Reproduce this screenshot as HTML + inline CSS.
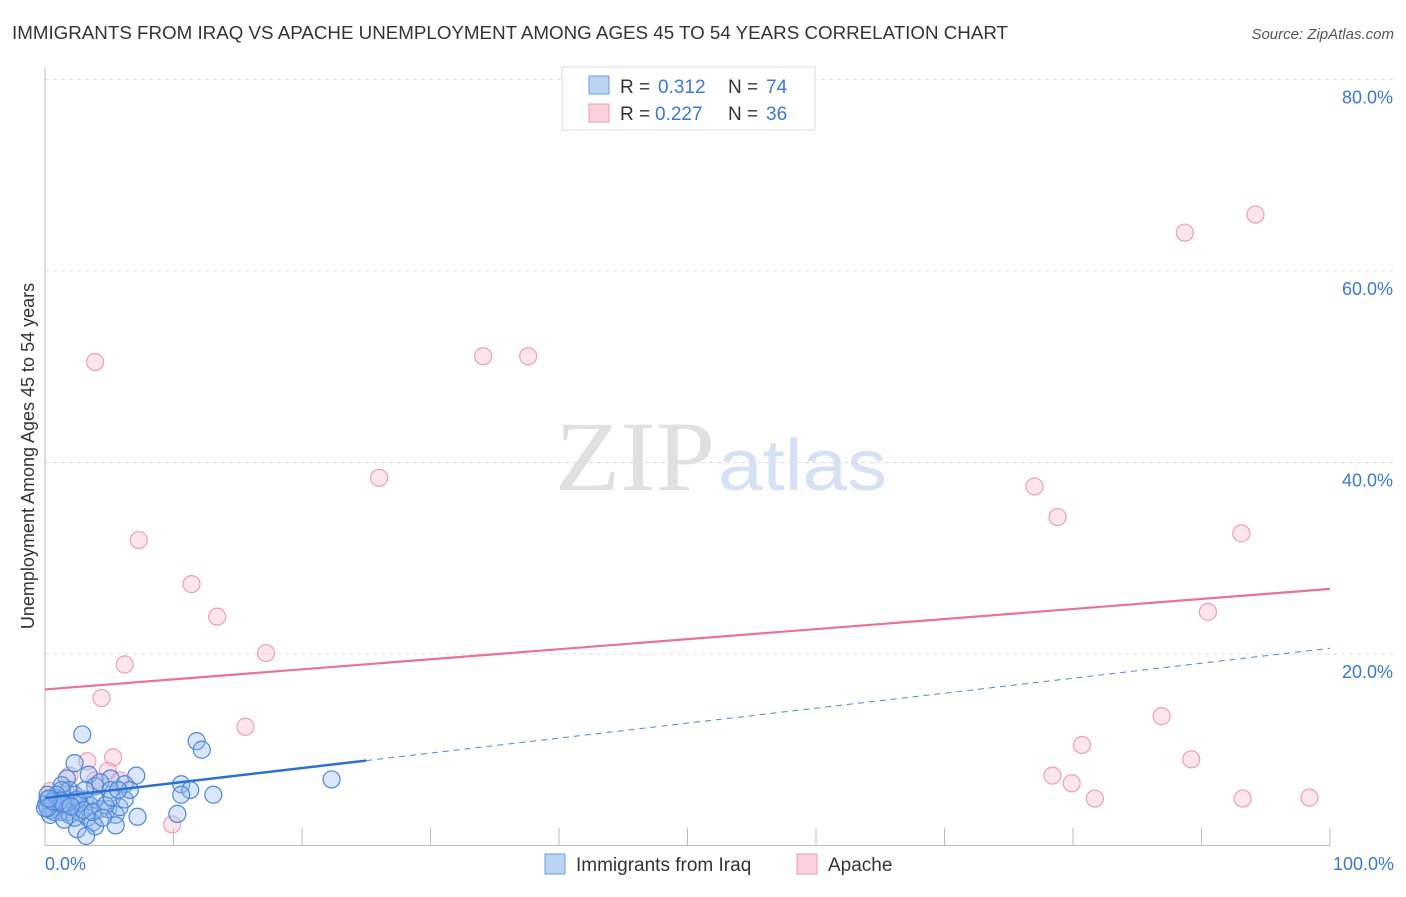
<!DOCTYPE html>
<html><head><meta charset="utf-8"><style>
body{margin:0;background:#fff;font-family:"Liberation Sans",sans-serif}
</style></head><body>
<svg width="1406" height="892" font-family="Liberation Sans, sans-serif">
<text x="12" y="39" font-size="18" fill="#333" textLength="996" lengthAdjust="spacingAndGlyphs">IMMIGRANTS FROM IRAQ VS APACHE UNEMPLOYMENT AMONG AGES 45 TO 54 YEARS CORRELATION CHART</text>
<text x="1394" y="39" font-size="15" fill="#555" font-style="italic" text-anchor="end">Source: ZipAtlas.com</text>
<g id="grid"></g>
<text x="555" y="490" font-size="100" fill="#e0e0e0" textLength="160" lengthAdjust="spacingAndGlyphs" style="font-family:'Liberation Serif',serif">ZIP</text>
<text x="718" y="490" font-size="72" fill="#d6e2f3" textLength="169" lengthAdjust="spacingAndGlyphs">atlas</text>
<text transform="translate(34,456) rotate(-90)" font-size="18" fill="#333" text-anchor="middle">Unemployment Among Ages 45 to 54 years</text>
<g id="marks"></g>
<g>
<rect x="562" y="67" width="253" height="63" fill="#fff" stroke="#ddd"/>
<rect x="589" y="76" width="20" height="18" fill="#bcd4f4" stroke="#6b9be0"/>
<rect x="589" y="104" width="20" height="18" fill="#fbd0dc" stroke="#ec9ab4"/>
<text x="620" y="93" font-size="19" fill="#333">R =</text><text x="658" y="93" font-size="19" fill="#3a78d4">0.312</text>
<text x="728" y="93" font-size="19" fill="#333">N =</text><text x="766" y="93" font-size="19" fill="#3a78d4">74</text>
<text x="620" y="120" font-size="19" fill="#333">R =</text><text x="655" y="120" font-size="19" fill="#3a78d4">0.227</text>
<text x="728" y="120" font-size="19" fill="#333">N =</text><text x="766" y="120" font-size="19" fill="#3a78d4">36</text>
</g>
<g>
<rect x="545" y="854" width="20" height="20" fill="#bcd4f4" stroke="#6b9be0"/>
<text x="576" y="871" font-size="19" fill="#333">Immigrants from Iraq</text>
<rect x="797" y="854" width="20" height="20" fill="#fbd0dc" stroke="#ec9ab4"/>
<text x="828" y="871" font-size="19" fill="#333">Apache</text>
</g>
<text x="45" y="870" font-size="18" fill="#3a78d4">0.0%</text>
<text x="1394" y="870" font-size="18" fill="#3a78d4" text-anchor="end">100.0%</text>
</svg>
<script>
const yTicks=[20,40,60,80];
const xTicks=[10,20,30,40,50,60,70,80,90,100];
const blueX=[2.9,11.8,12.2,2.3,3.4,7.1,5.1,1.7,3.9,10.6,22.3,11.3,10.6,13.1,6.2,4.3,1.3,1.9,2.3,3.1,0.8,0.2,0.5,1.0,1.6,2.1,2.7,3.5,4.3,4.9,5.5,5.8,7.2,10.3,1.9,2.7,3.3,3.7,5.5,2.5,3.9,3.2,1.2,0.4,0.1,0.4,1.6,2.5,3.9,4.7,5.1,1.3,0.9,1.8,2.3,3.0,3.7,0.2,0.7,1.5,4.5,5.2,6.2,6.6,5.7,3.1,1.0,0.2,1.2,0.0,0.6,1.4,2.0,0.3];
const blueY=[11.6,10.9,10.0,8.6,7.4,7.3,7.0,7.0,6.2,6.4,6.9,5.8,5.3,5.3,6.4,6.6,6.3,5.8,5.3,4.8,5.0,4.8,4.3,4.0,4.2,4.0,4.4,4.2,3.8,3.8,3.2,4.0,3.0,3.3,3.2,3.5,2.9,2.4,2.1,1.7,2.0,1.0,3.5,3.7,4.3,3.2,4.8,4.8,4.8,4.2,5.8,5.8,5.3,3.5,2.9,3.7,3.5,5.3,3.5,2.7,2.9,5.0,4.8,5.8,5.8,5.8,4.5,3.9,4.7,3.9,4.6,4.4,4.1,4.9];
const pinkX=[3.9,34.1,37.6,26.0,7.3,11.4,13.4,6.2,17.2,4.4,15.6,5.3,3.3,4.9,5.8,3.9,1.9,1.6,0.4,0.8,9.9,88.7,94.2,77.0,78.8,93.1,90.5,86.9,80.7,89.2,78.4,79.9,81.7,93.2,98.4,0.2];
const pinkY=[50.5,51.1,51.1,38.4,31.9,27.3,23.9,18.9,20.1,15.4,12.4,9.2,8.8,7.8,6.8,6.8,7.3,5.7,5.7,4.8,2.2,64.0,65.9,37.5,34.3,32.6,24.4,13.5,10.5,9.0,7.3,6.5,4.9,4.9,5.0,4.8];
const blueFit=[4.96,20.6], pinkFit=[16.3,26.8], blueSolidEnd=25;
const X=v=>45+v*12.85, Y=v=>845.5-v*9.575;
const NS='http://www.w3.org/2000/svg';
function mk(tag,attrs,parent){const e=document.createElementNS(NS,tag);for(const k in attrs)e.setAttribute(k,attrs[k]);document.getElementById(parent).appendChild(e);return e;}
yTicks.forEach(t=>{
 const l=mk('line',{x1:45,x2:1395,y1:Y(t),y2:Y(t),stroke:'#ddd','stroke-dasharray':'4,4'},'grid');
 
 
 const tx=mk('text',{x:1393,y:Y(t)+24,'font-size':18,fill:'#3a78d4','text-anchor':'end'},'grid');
 tx.textContent=t.toFixed(1)+'%';
 
 
});
xTicks.forEach(t=>{
 const l=mk('line',{x1:X(t),x2:X(t),y1:828,y2:845.5,stroke:'#bbb'},'grid');
 
 
});
let a=mk('line',{x1:45,x2:45,y1:68,y2:845.5,stroke:'#bbb'},'grid');


a=mk('line',{x1:45,x2:1330,y1:845.5,y2:845.5,stroke:'#bbb'},'grid');


pinkX.forEach((x,i)=>{
 const c=mk('circle',{cx:X(x),cy:Y(pinkY[i]),r:8.5,fill:'rgba(246,170,195,0.3)',stroke:'#eca0b8','stroke-width':1.2},'marks');
 
 
});
blueX.forEach((x,i)=>{
 const c=mk('circle',{cx:X(x),cy:Y(blueY[i]),r:8.5,fill:'rgba(150,185,235,0.35)',stroke:'#4a86dc','stroke-width':1.2},'marks');
 
 
});
const bf=v=>blueFit[0]+(blueFit[1]-blueFit[0])*v/100;
let t=mk('line',{x1:X(0),y1:Y(pinkFit[0]),x2:X(100),y2:Y(pinkFit[1]),stroke:'#e8709a','stroke-width':2.2},'marks');


t=mk('line',{x1:X(0),y1:Y(bf(0)),x2:X(blueSolidEnd),y2:Y(bf(blueSolidEnd)),stroke:'#2a6fd4','stroke-width':2.5},'marks');


t=mk('line',{x1:X(blueSolidEnd),y1:Y(bf(blueSolidEnd)),x2:X(100),y2:Y(bf(100)),stroke:'#4a86dc','stroke-width':1,'stroke-dasharray':'6,5'},'marks');


</script>
</body></html>
